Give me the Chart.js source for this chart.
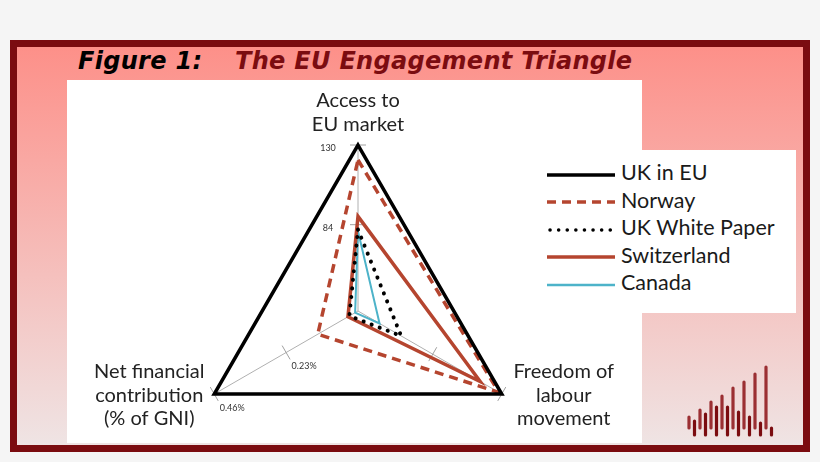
<!DOCTYPE html>
<html lang="en">
<head>
    <meta charset="UTF-8">
    <title>The EU Engagement Triangle</title>
    <style>
        html, body {
            margin: 0;
            width: 820px;
            height: 462px;
            overflow: hidden;
            background: #f5f5f5;
        }
        #frame {
            position: absolute;
            left: 10px;
            top: 40px;
            width: 800px;
            height: 412px;
            box-sizing: border-box;
            border: 7px solid #7b0c10;
            background: linear-gradient(#fd9089, #efe4e4);
        }
        #plotArea {
            position: absolute;
            left: 67px;
            top: 80px;
            width: 575px;
            height: 363px;
            background: #fff;
        }
        .title {
            position: absolute;
            top: 47px;
            font: italic bold 24px "DejaVu Sans", sans-serif;
            letter-spacing: 0.3px;
            white-space: nowrap;
        }
        #chart {
            position: absolute;
            left: 0;
            top: 0;
        }
        #legend {
            position: absolute;
            left: 542px;
            top: 150px;
            width: 254px;
            height: 163px;
            box-sizing: border-box;
            padding-top: 9px;
            background: #fff;
            font: 21.5px Lato, sans-serif;
            color: #1a1a1a;
        }
        #legend div {
            height: 27.5px;
            line-height: 27.5px;
            white-space: nowrap;
        }
        #legend svg {
            vertical-align: middle;
            margin-left: 5px;
            margin-right: 6px;
        }
        #logo {
            position: absolute;
            left: 684px;
            top: 360px;
        }
    </style>
    <script src="https://cdn.jsdelivr.net/npm/chart.js"></script>
</head>
<body>
    <div id="frame"></div>
    <div id="plotArea"></div>
    <div class="title" style="left:78px;color:#000">Figure 1:</div>
    <div class="title" style="left:235px;color:#7b0c10">The EU Engagement Triangle</div>
    <canvas id="chart" width="820" height="520"></canvas>
    <div id="legend"></div>
    <svg id="logo" width="100" height="80"></svg>

    <script>
        // axes of the triangle (clockwise from the top)
        const axisNames = ['Access to EU market', 'Freedom of labour movement', 'Net financial contribution (% of GNI)'];
        const axisLines = [['Access to', 'EU market'], ['Freedom of', 'labour', 'movement'], ['Net financial', 'contribution', '(% of GNI)']];

        // values as share of each axis (0 = centre, 1 = corner)
        const ukInEu = [1, 1, 1];
        const norway = [0.91, 0.98, 0.28];
        const ukWhitePaper = [0.49, 0.30, 0.06];
        const switzerland = [0.57, 0.85, 0.07];
        const canada = [0.48, 0.15, 0.02];

        // tick marks on the axes
        const tickAxis = [0, 0, 1, 1, 2, 2];
        const tickPos = [1, 0.52, 0.52, 1, 0.5, 1];
        const tickText = ['130', '84', '', '', '0.23%', '0.46%'];

        // decorative logo bars (top offsets)
        const logoTops = [57, 61, 50, 54, 42, 47, 36, 47, 28, 52, 22, 57, 14, 63, 7, 68];

        const red = '#b5452f';
        const series = [
            { label: 'UK in EU', data: ukInEu, color: '#000', width: 3.5, dash: [], cap: 'butt' },
            { label: 'Norway', data: norway, color: red, width: 3.5, dash: [9, 6], cap: 'butt' },
            { label: 'UK White Paper', data: ukWhitePaper, color: '#000', width: 4, dash: [0.1, 8.5], cap: 'round' },
            { label: 'Switzerland', data: switzerland, color: red, width: 3.5, dash: [], cap: 'butt' },
            { label: 'Canada', data: canada, color: '#4db3c9', width: 2, dash: [], cap: 'butt' }
        ];

        const axisExtras = {
            id: 'axisExtras',
            beforeDatasetsDraw(chart) {
                const ctx = chart.ctx;
                const r = chart.scales.r;
                ctx.save();
                ctx.strokeStyle = '#a0a0a0';
                ctx.lineWidth = 1;
                ctx.fillStyle = '#333';
                ctx.font = '9px Lato, sans-serif';
                ctx.textAlign = 'center';
                ctx.textBaseline = 'middle';
                const labelOffset = [[-30, 3], [0, 0], [18, 14]];
                for (let i = 0; i < tickAxis.length; i++) {
                    const a = tickAxis[i];
                    const p = r.getPointPositionForValue(a, tickPos[i]);
                    const ang = r.getIndexAngle(a) - Math.PI / 2;
                    const nx = -Math.sin(ang), ny = Math.cos(ang);
                    ctx.beginPath();
                    ctx.moveTo(p.x - nx * 8, p.y - ny * 8);
                    ctx.lineTo(p.x + nx * 8, p.y + ny * 8);
                    ctx.stroke();
                    if (tickText[i]) {
                        ctx.fillText(tickText[i], p.x + labelOffset[a][0], p.y + labelOffset[a][1]);
                    }
                }
                ctx.restore();
            },
            afterDraw(chart) {
                const ctx = chart.ctx;
                const r = chart.scales.r;
                const offsets = [[0, -44], [62, -22], [-65, -22]];
                ctx.save();
                ctx.fillStyle = '#222';
                ctx.font = '20px Lato, sans-serif';
                ctx.textAlign = 'center';
                ctx.textBaseline = 'middle';
                axisLines.forEach((lines, a) => {
                    const p = r.getPointPositionForValue(a, 1);
                    lines.forEach((t, k) => {
                        ctx.fillText(t, p.x + offsets[a][0], p.y + offsets[a][1] + k * 23.5);
                    });
                });
                ctx.restore();
            }
        };

        new Chart(document.getElementById('chart'), {
            type: 'radar',
            data: {
                labels: axisNames,
                datasets: series.map(s => ({
                    label: s.label,
                    data: s.data,
                    borderColor: s.color,
                    borderWidth: s.width,
                    borderDash: s.dash,
                    borderCapStyle: s.cap,
                    borderJoinStyle: 'miter',
                    backgroundColor: 'transparent',
                    fill: false,
                    pointRadius: 0,
                    tension: 0
                }))
            },
            options: {
                responsive: false,
                animation: false,
                layout: { padding: { left: 192, right: 296, top: 145, bottom: 43 } },
                plugins: { legend: { display: false }, tooltip: { enabled: false } },
                scales: {
                    r: {
                        min: 0,
                        max: 1,
                        ticks: { display: false },
                        grid: { display: false },
                        pointLabels: { display: false },
                        angleLines: { color: '#b0b0b0', lineWidth: 1 }
                    }
                }
            },
            plugins: [axisExtras]
        });

        // legend
        const legend = document.getElementById('legend');
        series.forEach(s => {
            const row = document.createElement('div');
            const dash = s.dash.length ? `stroke-dasharray="${s.dash.join(' ')}"` : '';
            row.innerHTML = `<svg width="68" height="6"><line x1="${s.cap === 'round' ? 3 : 0}" y1="3" x2="68" y2="3" stroke="${s.color}" stroke-width="${s.width === 2 ? 2.5 : 3.5}" stroke-linecap="${s.cap}" ${dash}/></svg>${s.label}`;
            legend.appendChild(row);
        });

        // logo
        const logo = document.getElementById('logo');
        let svg = '';
        logoTops.forEach((t, i) => {
            const x = 5 + i * 5.5;
            const bottom = i % 2 ? 75 : 68;
            const col = i % 2 ? '#7b0c10' : '#9b2f33';
            svg += `<line x1="${x}" y1="${t}" x2="${x}" y2="${bottom}" stroke="${col}" stroke-width="3.2" stroke-linecap="round"/>`;
        });
        logo.innerHTML = svg;
    </script>
</body>
</html>
